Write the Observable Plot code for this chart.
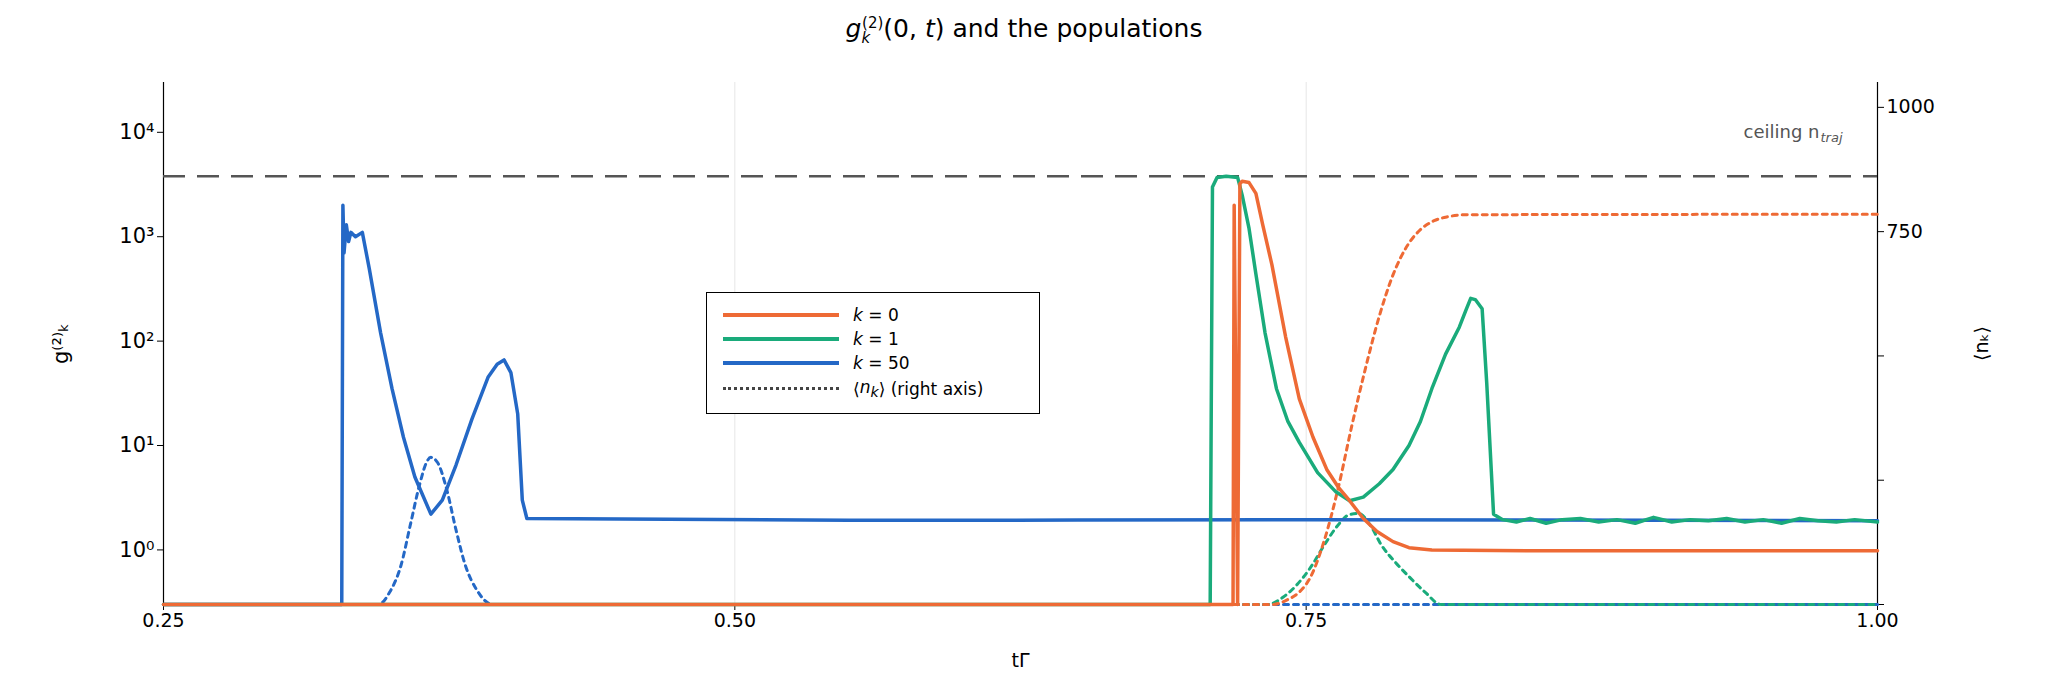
<!DOCTYPE html>
<html><head><meta charset="utf-8">
<script src="https://cdn.jsdelivr.net/npm/d3@7"></script>
<script src="https://cdn.jsdelivr.net/npm/@observablehq/plot@0.6"></script>
<style>
body{margin:0;background:#fff;font-family:"DejaVu Sans",sans-serif;}
#wrap{position:relative;width:2048px;height:695px;}
#title{position:absolute;top:14px;left:0;width:2048px;text-align:center;font-size:25px;}
#legend{position:absolute;left:706px;top:292px;width:334px;height:122px;border:1.5px solid #000;background:#fff;box-sizing:border-box;font-size:17px;}
.li{position:absolute;left:16px;display:flex;align-items:center;}
.sw{width:116px;height:0;margin-right:14px;}
</style></head><body>
<div id="wrap"><div id="chart"></div>
<div id="title"><i>g</i><sub style="font-size:15px"><i>k</i></sub><sup style="font-size:15px;margin-left:-8px">(2)</sup>(0, <i>t</i>) and the populations</div>
<div id="legend">
<div class="li" style="top:12px"><div class="sw" style="border-top:4px solid #ee6a35"></div><i>k</i>&nbsp;=&nbsp;0</div>
<div class="li" style="top:36px"><div class="sw" style="border-top:4px solid #1aab7b"></div><i>k</i>&nbsp;=&nbsp;1</div>
<div class="li" style="top:60px"><div class="sw" style="border-top:4px solid #2468c6"></div><i>k</i>&nbsp;=&nbsp;50</div>
<div class="li" style="top:84px"><div class="sw" style="border-top:3px dotted #444"></div>⟨<i>n<sub>k</sub></i>⟩ (right axis)</div>
</div></div>
<script>
const G_MIN = 0.3, G_MAX = 30000, N_MAX = 1050, CEIL_G = 3800;
const xTicks = [0.25, 0.5, 0.75, 1.0];
const gTicks = [1, 10, 100, 1000, 10000];
const nTicks = [0, 250, 500, 750, 1000];

// g2 for k=50 (blue)
const t50 = [0.25,0.328,0.3285,0.329,0.330,0.331,0.332,0.334,0.337,0.340,0.345,0.350,0.355,0.360,0.367,0.372,0.378,0.385,0.392,0.396,0.399,0.402,0.405,0.407,0.409,0.45,0.55,0.65,0.75,0.85,1.0];
const g50 = [0.3,0.3,2000,700,1300,900,1100,1000,1100,500,120,35,12,5,2.2,3,6.5,18,45,60,66,50,20,3,2.0,1.98,1.92,1.93,1.95,1.93,1.9];
// g2 for k=1 (green)
const t1 = [0.25,0.708,0.709,0.711,0.715,0.72,0.722,0.725,0.728,0.732,0.737,0.742,0.747,0.755,0.763,0.769,0.775,0.782,0.788,0.795,0.800,0.805,0.811,0.817,0.820,0.822,0.824,0.827,0.829,0.832,0.836,0.842,0.848,0.855,0.862,0.87,0.878,0.886,0.894,0.902,0.91,0.918,0.926,0.934,0.942,0.95,0.958,0.966,0.974,0.982,0.99,1.0];
const g1 = [0.3,0.3,3000,3700,3800,3700,2500,1200,440,120,35,17,10.7,5.5,3.6,2.96,3.2,4.3,5.9,10,17,35,75,136,200,257,250,204,40,2.2,1.95,1.85,2.0,1.8,1.95,2.0,1.85,1.95,1.8,2.05,1.85,1.95,1.9,2.0,1.85,1.95,1.8,2.0,1.9,1.85,1.95,1.85];
// g2 for k=0 (orange)
const t0 = [0.25,0.718,0.7185,0.720,0.721,0.722,0.725,0.728,0.731,0.735,0.741,0.747,0.753,0.759,0.764,0.769,0.775,0.781,0.788,0.795,0.805,0.85,1.0];
const g0 = [0.3,0.3,2000,0.3,3200,3400,3300,2600,1300,540,110,28,12,5.9,4,2.96,2.0,1.5,1.2,1.05,1.0,0.98,0.98];
// populations <n_k>
const tn0 = [0.25,0.735,0.742,0.747,0.752,0.758,0.764,0.770,0.776,0.782,0.788,0.794,0.800,0.806,0.812,0.82,1.0];
const n0 = [0,0,10,25,56,130,234,360,476,580,663,720,754,772,780,784,785];
const tn1 = [0.25,0.733,0.740,0.746,0.752,0.758,0.764,0.769,0.773,0.778,0.783,0.789,0.795,0.802,0.809,1.0];
const n1 = [0,0,15,40,75,120,160,181,183,160,119,85,56,25,0,0];
const tn50 = [0.25,0.344,0.349,0.354,0.358,0.362,0.365,0.367,0.370,0.374,0.378,0.382,0.387,0.394,1.0];
const n50 = [0,0,25,80,160,240,285,296,285,230,150,80,30,0,0];

const L0 = Math.log10(G_MIN), L1 = Math.log10(G_MAX);
const nToG = n => Math.pow(10, L0 + (n / N_MAX) * (L1 - L0));
const gToN = g => (Math.log10(g) - L0) / (L1 - L0) * N_MAX;
const zip = (ts, vs) => ts.map((t, i) => ({t, v: vs[i]}));
const zipN = (ts, vs) => ts.map((t, i) => ({t, v: nToG(vs[i])}));
const sup = {"0":"⁰","1":"¹","2":"²","3":"³","4":"⁴"};
const C0 = "#ee6a35", C1 = "#1aab7b", C50 = "#2468c6";

const chart = Plot.plot({
  width: 2048, height: 695,
  marginLeft: 163, marginRight: 171, marginTop: 82, marginBottom: 91,
  style: {fontFamily: "DejaVu Sans, sans-serif", fontSize: "19px", background: "#fff"},
  x: {domain: [0.25, 1.0]},
  y: {type: "log", domain: [G_MIN, G_MAX]},
  marks: [
    Plot.ruleX([0.5, 0.75], {stroke: "#e6e6e6", strokeWidth: 1}),
    Plot.axisX({ticks: xTicks, tickFormat: d3.format(".2f"), tickSize: 6, fontSize: 19, label: "tΓ", labelAnchor: "center", labelArrow: "none", labelOffset: 62}),
    Plot.axisY({anchor: "left", ticks: gTicks, tickFormat: d => "10" + sup[Math.round(Math.log10(d))], tickSize: 6, fontSize: 21, label: "g⁽²⁾ₖ", labelAnchor: "center", labelArrow: "none", labelOffset: 110}),
    Plot.axisY({anchor: "right", ticks: nTicks.map(nToG), tickFormat: d => String(Math.round(gToN(d))), tickSize: 6, fontSize: 19, label: "⟨nₖ⟩", labelAnchor: "center", labelArrow: "none", labelOffset: 110}),
    Plot.ruleX([0.25, 1.0], {stroke: "#000", strokeWidth: 1.2}),
    Plot.ruleY([CEIL_G], {stroke: "#555", strokeWidth: 2.5, strokeDasharray: "22,12"}),
    Plot.text(["ceiling n"], {x: 1.0, y: 10000, dx: -58, textAnchor: "end", fill: "#555", fontSize: 18}),
    Plot.text(["traj"], {x: 1.0, y: 10000, dx: -57, dy: 6, textAnchor: "start", fill: "#555", fontSize: 13, fontStyle: "italic"}),
    Plot.line(zipN(tn50, n50), {x: "t", y: "v", stroke: C50, strokeWidth: 3, strokeDasharray: "5,5", curve: "monotone-x"}),
    Plot.line(zipN(tn1, n1), {x: "t", y: "v", stroke: C1, strokeWidth: 3, strokeDasharray: "5,5", curve: "monotone-x"}),
    Plot.line(zipN(tn0, n0), {x: "t", y: "v", stroke: C0, strokeWidth: 3, strokeDasharray: "5,5", curve: "monotone-x"}),
    Plot.line(zip(t50, g50), {x: "t", y: "v", stroke: C50, strokeWidth: 3.5}),
    Plot.line(zip(t1, g1), {x: "t", y: "v", stroke: C1, strokeWidth: 3.5}),
    Plot.line(zip(t0, g0), {x: "t", y: "v", stroke: C0, strokeWidth: 3.5})
  ]
});
document.getElementById("chart").appendChild(chart);
</script></body></html>
